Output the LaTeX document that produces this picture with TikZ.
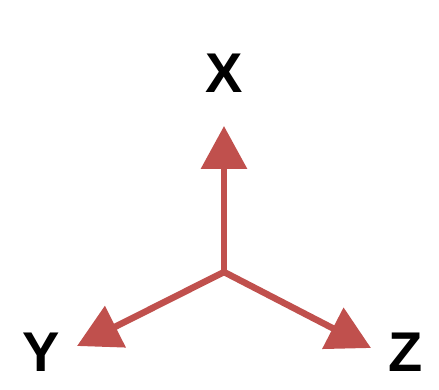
\documentclass[tikz,border=0pt]{standalone}
\usepackage{fontspec}
\setmainfont{Liberation Sans}
\definecolor{axRed}{HTML}{C0504D}
\usetikzlibrary{arrows.meta}
\begin{document}
\begin{tikzpicture}[
  x=1pt,y=-1pt,
  axis/.style={draw=axRed,line width=6.5pt,-{Triangle[length=43pt,width=45pt]}},
  lbl/.style={font=\fontsize{56}{60}\selectfont\bfseries,text=black,inner sep=0pt}
]
\useasboundingbox (0,0) rectangle (439,390);
\coordinate (o)  at (224,272);
\coordinate (xt) at (224,126);
\coordinate (yt) at (77,346);
\coordinate (zt) at (371,348);
\draw[axis] (o) -- (xt);
\draw[axis] (o) -- (yt);
\draw[axis] (o) -- (zt);
% axis names
\node[lbl] (xl) at (224,73)  {X};
\node[lbl] (yl) at (41,352)  {Y};
\node[lbl] (zl) at (406,352) {Z};
\end{tikzpicture}
\end{document}
